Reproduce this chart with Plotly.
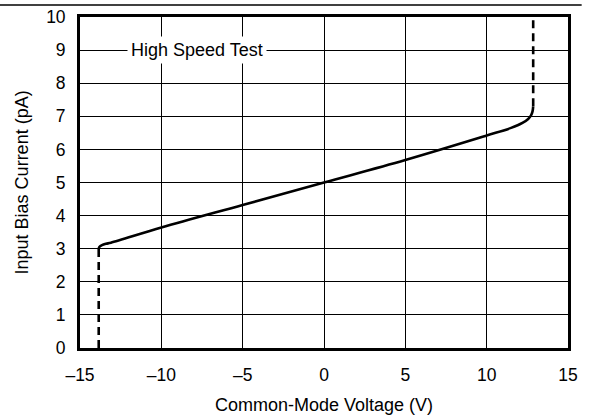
import plotly.graph_objects as go

# Data
curve_x = [-13.85, -13.8, -13.65, -13.4, -13.1, -10, -5, 0, 5, 10, 11.5, 12.2, 12.55, 12.72, 12.82, 12.86]
curve_y = [3.0, 3.06, 3.11, 3.15, 3.18, 3.64, 4.32, 5.0, 5.68, 6.42, 6.65, 6.8, 6.92, 7.02, 7.15, 7.3]
low_dash_x = [-13.85, -13.85]
low_dash_y = [0, 3.0]
high_dash_x = [12.86, 12.86]
high_dash_y = [7.3, 10]

x_ticks = [-15, -10, -5, 0, 5, 10, 15]
x_ticktext = ["–15", "–10", "–5", "0", "5", "10", "15"]
y_ticks = [0, 1, 2, 3, 4, 5, 6, 7, 8, 9, 10]

FONT = "Liberation Sans, Arial, sans-serif"

fig = go.Figure()
fig.add_trace(go.Scatter(x=curve_x, y=curve_y, mode="lines", line_shape="spline",
                         line=dict(color="black", width=2.6), hoverinfo="skip"))
fig.add_trace(go.Scatter(x=low_dash_x, y=low_dash_y, mode="lines",
                         line=dict(color="black", width=2.6, dash="8px,5px"), hoverinfo="skip"))
fig.add_trace(go.Scatter(x=high_dash_x, y=high_dash_y, mode="lines",
                         line=dict(color="black", width=2.6, dash="8px,5px"), hoverinfo="skip"))

fig.update_layout(
    width=591, height=418,
    margin=dict(l=80, r=23, t=17, b=70, autoexpand=False),
    paper_bgcolor="white", plot_bgcolor="white",
    showlegend=False,
    font=dict(family=FONT, size=17, color="black"),
)
fig.update_xaxes(range=[-15, 15], tickvals=x_ticks, ticktext=x_ticktext,
                 showgrid=True, gridcolor="black", gridwidth=1,
                 showline=True, linecolor="black", linewidth=2.8, mirror=True,
                 ticks="", ticklabelstandoff=9, zeroline=False,
                 tickfont=dict(size=17.5), automargin=False)
fig.update_yaxes(range=[0, 10], tickvals=y_ticks,
                 showgrid=True, gridcolor="black", gridwidth=1,
                 showline=True, linecolor="black", linewidth=2.8, mirror=True,
                 ticks="", ticklabelstandoff=8, zeroline=False,
                 tickfont=dict(size=17.5), automargin=False)

fig.add_annotation(x=-7.8, y=9, xref="x", yref="y", text="High Speed Test",
                   showarrow=False, bgcolor="white", borderpad=3,
                   font=dict(size=18))
fig.add_annotation(x=0.5, y=-0.172, xref="paper", yref="paper",
                   text="Common-Mode Voltage (V)", showarrow=False,
                   xanchor="center", yanchor="middle", font=dict(size=18))
fig.add_annotation(x=-0.119, y=0.5, xref="paper", yref="paper",
                   text="Input Bias Current (pA)", showarrow=False, textangle=-90,
                   xanchor="center", yanchor="middle", font=dict(size=18))
fig.add_shape(type="line", xref="paper", yref="paper", x0=-0.164, x1=1.028,
              y0=1.036, y1=1.036, line=dict(color="black", width=1.5))

fig.write_html("out.html", config={"displayModeBar": False},
               post_script="document.body.style.margin='0';document.body.style.overflow='hidden';")
